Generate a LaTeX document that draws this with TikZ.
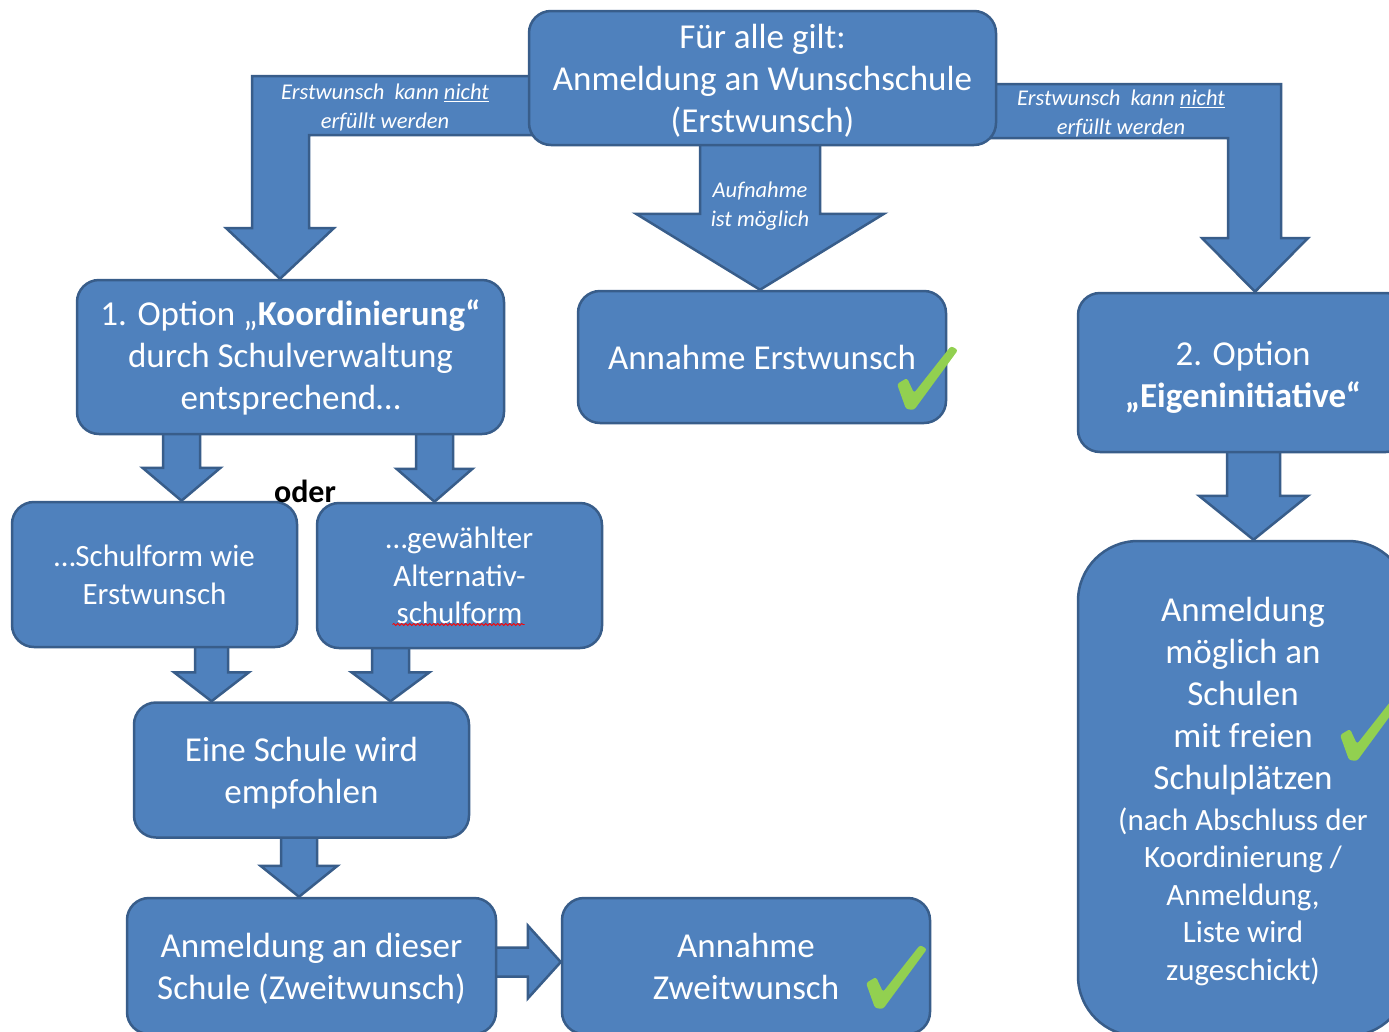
\documentclass[tikz,border=0pt]{standalone}
\usepackage{fontspec}
\setmainfont{Carlito}
\usetikzlibrary{calc,decorations.pathmorphing}
\definecolor{boxc}{HTML}{4F81BD}
\definecolor{bordc}{HTML}{385D8A}
\definecolor{chkc}{HTML}{92D050}
\pgfdeclarelayer{bg}
\pgfsetlayers{bg,main}
\tikzset{
  box/.style={draw=bordc, fill=boxc, line width=2.5pt, rounded corners=22pt, text=white,
    align=center, inner sep=0pt, font=\fontsize{35}{42}\selectfont},
  blk/.style={draw=bordc, fill=boxc, line width=2.5pt, line join=miter},
  lbl/.style={text=white, align=center, inner sep=0pt, font=\fontsize{22.5}{29}\selectfont\itshape},
  chk/.style={fill=chkc, rounded corners=2.5pt},
}
% vertical block arrow: from, to, x, shaft half width, head half width, head length
\newcommand\vblk[6]{%
  \coordinate (vt) at (#3,0 |- #1.south);
  \coordinate (vb) at (#3,0 |- #2.north);
  \filldraw[blk] ($(vt)+(-#4,-8)$) -- ($(vt)+(#4,-8)$) -- ($(vb)+(#4,-#6)$) -- ($(vb)+(#5,-#6)$)
    -- (vb) -- ($(vb)+(-#5,-#6)$) -- ($(vb)+(-#4,-#6)$) -- cycle;}
\newcommand\chkmark[2]{%
  \fill[chk, shift={(#1,#2)}] (1,38) -- (11,32) -- (18,47) -- (55,0) -- (62,4) -- (18,64) -- (10,63) -- cycle;}
\begin{document}
\begin{tikzpicture}[x=1pt,y=-1pt]
\useasboundingbox (0,0) rectangle (1389,1031);

% boxes
\node[box, minimum width=467pt, minimum height=134pt] (top) at (762.5,78)
  {\rule{0pt}{30pt}Für alle gilt:\\Anmeldung an Wunschschule\\(Erstwunsch)};
\node[box, minimum width=427pt, minimum height=154pt] (opt1) at (290.5,357)
  {1. Option „\textbf{Koordinierung“}\\durch Schulverwaltung\\entsprechend…};
\node[box, minimum width=368pt, minimum height=132pt] (ae) at (762,357)
  {Annahme Erstwunsch};
\node[box, minimum width=330pt, minimum height=159pt] (opt2) at (1243,372.5)
  {\rule{0pt}{34pt}2. Option\\\textbf{„Eigeninitiative“}};
\node[box, rounded corners=60pt, minimum width=330pt, minimum height=495pt,
  font=\fontsize{31}{37.5}\selectfont] (anm2) at (1243,788.5)
  {{\fontsize{35}{42}\selectfont\rule{0pt}{30pt}Anmeldung}\\[4.5pt]
   {\fontsize{35}{42}\selectfont möglich an}\\[4.5pt]
   {\fontsize{35}{42}\selectfont Schulen}\\[4.5pt]
   {\fontsize{35}{42}\selectfont mit freien}\\[4.5pt]
   {\fontsize{35}{42}\selectfont Schulplätzen}\\[3.5pt]
   (nach Abschluss der\\Koordinierung /\\Anmeldung,\\Liste wird\\zugeschickt)};
\node[box, minimum width=285pt, minimum height=145pt, font=\fontsize{31}{38}\selectfont] (sf1) at (154.5,574.5)
  {…Schulform wie\\Erstwunsch};
\node[box, minimum width=285pt, minimum height=145pt, font=\fontsize{31}{37.5}\selectfont] (sf2) at (459.5,575.5)
  {…gewählter\\Alternativ-\\schulform};
\node[box, minimum width=335pt, minimum height=135pt] (eine) at (301.5,770)
  {\rule{0pt}{30pt}Eine Schule wird\\empfohlen};
\node[box, minimum width=369pt, minimum height=136pt] (zw) at (311.5,966)
  {\rule{0pt}{30pt}Anmeldung an dieser\\Schule (Zweitwunsch)};
\node[box, minimum width=368pt, minimum height=136pt] (az) at (746,966)
  {Annahme\\Zweitwunsch};

% block arrows
\begin{pgfonlayer}{bg}
\fill[white] (0,0) rectangle (1389,1031);
\filldraw[blk] ($(top.west)+(20,-2)$) -- (252,76) -- (252,228) -- (226,228) -- (280,0 |- opt1.north)
  -- (334,228) -- (309,228) -- (309,135) -- ($(top.west)+(20,57)$) -- cycle;
\filldraw[blk] ($(top.east)+(-20,6)$) -- (1281,84) -- (1281,238) -- (1308,238) -- (1255,0 |- opt2.north)
  -- (1202,238) -- (1228,238) -- (1228,138) -- ($(top.east)+(-20,60)$) -- cycle;
\vblk{top}{ae}{760}{60}{124}{76}
\vblk{opt1}{sf1}{181.5}{18.5}{39}{33}
\vblk{opt1}{sf2}{434.5}{18.5}{38}{33}
\vblk{sf1}{eine}{211.5}{16.5}{37.5}{29}
\vblk{sf2}{eine}{390.5}{18.5}{39}{29}
\vblk{eine}{zw}{299}{18}{38.5}{31}
\vblk{opt2}{anm2}{1253.5}{26.5}{54.5}{44}
\coordinate (hs) at (zw.east |- 0,962);
\coordinate (he) at (az.west |- 0,962);
\filldraw[blk] ($(hs)+(-8,-14.5)$) -- ($(he)+(-33,-14.5)$) -- ($(he)+(-33,-36.5)$) -- (he)
  -- ($(he)+(-33,36.5)$) -- ($(he)+(-33,14.5)$) -- ($(hs)+(-8,14.5)$) -- cycle;
\end{pgfonlayer}

% arrow labels
\node[lbl] (l1) at (385,108) {Erstwunsch\ \ kann \underline{nicht}\\erfüllt werden};
\node[lbl] (l2) at (1121,114) {Erstwunsch\ \ kann \underline{nicht}\\erfüllt werden};
\node[lbl] (l3) at (760,206) {Aufnahme\\ist möglich};

% spelling underline
\draw[red, line width=0.8pt, decorate, decoration={snake, amplitude=1pt, segment length=4pt}]
  ($(sf2.center)+(-67,49)$) -- ($(sf2.center)+(65,49)$);

\node[inner sep=0pt, font=\fontsize{32}{38}\selectfont\bfseries] (oder) at (305,491) {oder};

% check marks
\chkmark{896}{346}
\chkmark{865}{945}
\chkmark{1339}{697}
\end{tikzpicture}
\end{document}
